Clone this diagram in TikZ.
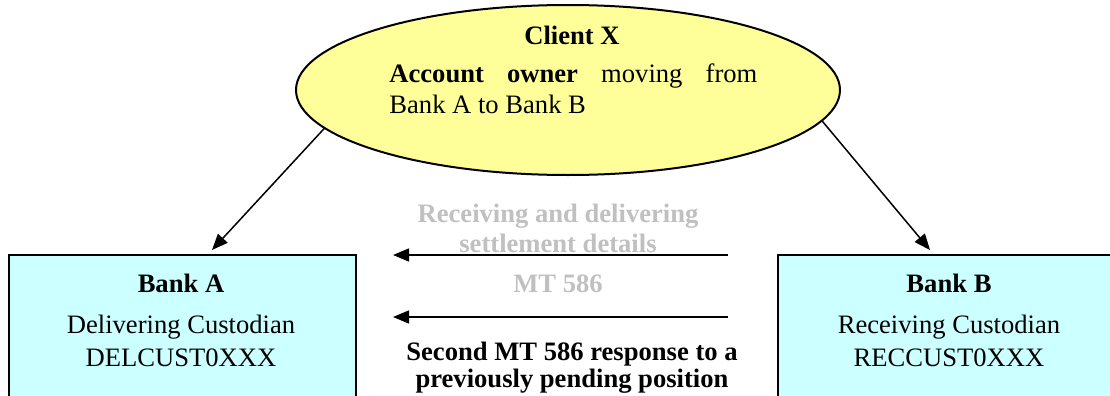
\documentclass[tikz,border=0pt]{standalone}
\usepackage{fontspec}
\setmainfont{Liberation Serif}
\usetikzlibrary{arrows.meta,shapes.geometric}
\definecolor{clientfill}{RGB}{255,255,153}
\definecolor{bankfill}{RGB}{204,255,255}
\definecolor{msggray}{RGB}{192,192,192}
\tikzset{
  txt/.style={inner sep=0pt, font=\fontsize{13.3}{16}\selectfont, anchor=base},
  bold/.style={font=\fontsize{13.3}{16}\selectfont\bfseries},
  bankbox/.style={draw, line width=1pt, fill=bankfill, rectangle, inner sep=0pt, anchor=north west},
  link/.style={line width=0.75pt, -{Triangle[length=8pt,width=6.5pt]}},
}
\begin{document}
\begin{tikzpicture}[x=0.5pt,y=-0.5pt]
\useasboundingbox (0,0) rectangle (1110,396);
\clip (0,0) rectangle (1110,396);

% client
\node[ellipse, draw, line width=1pt, fill=clientfill, minimum width=272pt,
      minimum height=85pt, inner sep=0pt] (client) at (568,90) {};
\node[txt, bold] (clientname) at (572,45) {Client X};
\node[txt, anchor=base west] (clientrole1) at (389,83)
  {\makebox[184pt][s]{\textbf{Account owner} moving from}};
\node[txt, anchor=base west] (clientrole2) at (389,113) {Bank A to Bank B};

% banks
\node[bankbox, minimum width=173.5pt, minimum height=100pt] (bankA) at (8,254) {};
\node[txt, bold] (bankAname) at (181,292) {Bank A};
\node[txt] (bankArole) at (181,333) {Delivering Custodian};
\node[txt] (bankAbic) at (181,366) {DELCUST0XXX};

\node[bankbox, minimum width=200pt, minimum height=100pt] (bankB) at (777,254) {};
\node[txt, bold] (bankBname) at (949,292) {Bank B};
\node[txt] (bankBrole) at (949,333) {Receiving Custodian};
\node[txt] (bankBbic) at (949,366) {RECCUST0XXX};

% account relations
\coordinate (tipA) at (212,250);
\coordinate (tipB) at (930,250);
\draw[link] (client.189.5) -- (tipA);
\draw[link] (client.353.3) -- (tipB);

% messages
\node[txt, bold, text=msggray] (msg1a) at (558,222) {Receiving and delivering};
\node[txt, bold, text=msggray] (msg1b) at (558,252) {settlement details};
\node[txt, bold, text=msggray] (msg2) at (558,292) {MT 586};
\node[txt, bold] (msg3a) at (572,360) {Second MT 586 response to a};
\node[txt, bold] (msg3b) at (572,387) {previously pending position};

\coordinate (msg1from) at (728,255);
\coordinate (msg1to) at (393,255);
\coordinate (msg2from) at (728,317);
\coordinate (msg2to) at (393,317);
\draw[link] (msg1from) -- (msg1to);
\draw[link] (msg2from) -- (msg2to);
\end{tikzpicture}
\end{document}
